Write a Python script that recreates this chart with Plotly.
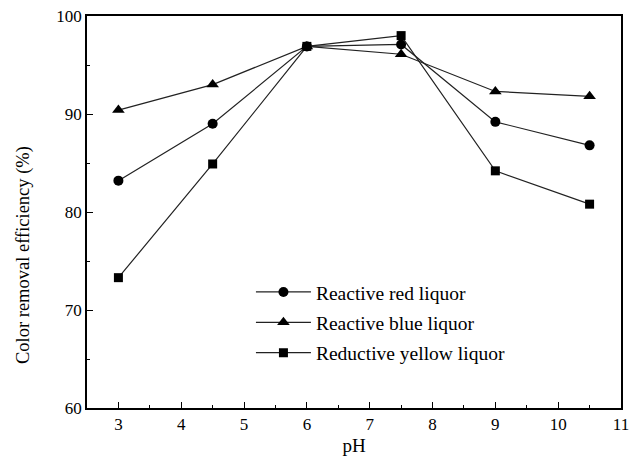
import plotly.graph_objects as go

ph = [3, 4.5, 6, 7.5, 9, 10.5]
red = [83.2, 89.0, 96.9, 97.1, 89.2, 86.8]
blue = [90.4, 93.0, 96.9, 96.1, 92.3, 91.8]
yellow = [73.3, 84.9, 96.9, 98.0, 84.2, 80.8]
names = ["Reactive red liquor", "Reactive blue liquor", "Reductive yellow liquor"]
symbols = ["circle", "triangle-up", "square"]
y_title = "Color removal efficiency (%)"
x_title = "pH"

FONT = "Liberation Serif, Times New Roman, serif"
fig = go.Figure()
for i, (name, ys, sym, sz) in enumerate(zip(names, [red, blue, yellow], symbols, [10, 11, 9])):
    fig.add_trace(go.Scatter(
        x=ph, y=ys, name=name, mode="lines+markers", legendgroup=f"g{i}",
        line=dict(color="#222222", width=1.2),
        marker=dict(symbol=sym, size=sz, color="black"),
    ))

axis_common = dict(
    showline=True, linecolor="black", linewidth=1.5, mirror=True,
    ticks="inside", ticklen=6, tickwidth=1.2, tickcolor="black",
    showgrid=False, zeroline=False, automargin=False,
    tickfont=dict(family=FONT, size=17, color="black"),
)
fig.update_xaxes(range=[2.5, 11], dtick=1, tick0=3,
                 minor=dict(ticks="inside", ticklen=3, dtick=0.5, tick0=2.5, tickcolor="black"),
                 title=dict(text=x_title, font=dict(family=FONT, size=19, color="black"), standoff=6),
                 **axis_common)
fig.update_yaxes(range=[60, 100], dtick=10,
                 minor=dict(ticks="inside", ticklen=3, dtick=5, tickcolor="black"),
                 **axis_common)
fig.add_annotation(text=y_title, textangle=-90, xref="paper", yref="paper",
                   x=-0.12, y=0.39, xanchor="center", yanchor="middle", showarrow=False,
                   font=dict(family=FONT, size=18.5, color="black"))
fig.update_layout(
    width=635, height=458,
    margin=dict(l=87, r=14, t=16, b=50),
    plot_bgcolor="white", paper_bgcolor="white",
    legend=dict(x=0.307, y=0.345, xanchor="left", yanchor="top",
                font=dict(family=FONT, size=19.5, color="black"),
                traceorder="grouped", tracegroupgap=2,
                bgcolor="rgba(0,0,0,0)", itemwidth=55),
)
fig.write_html("out.html")
